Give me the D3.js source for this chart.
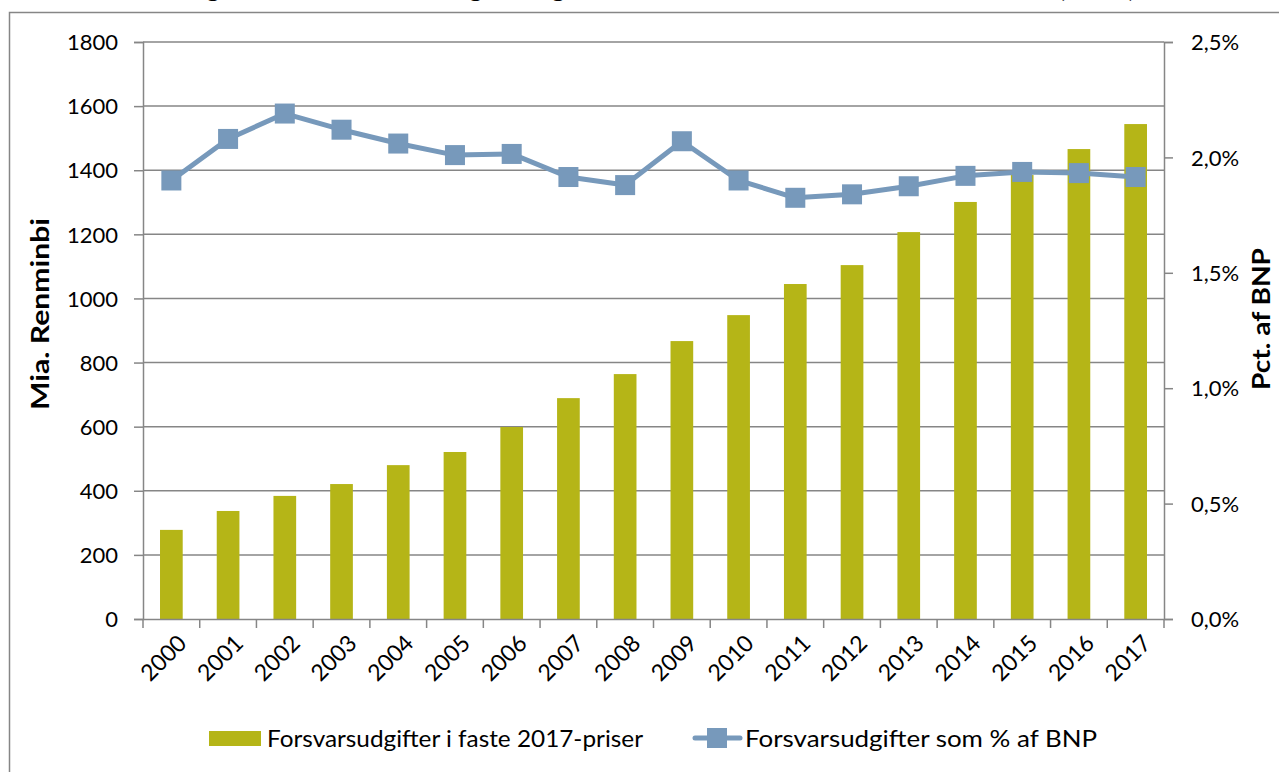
<!DOCTYPE html>
<html><head><meta charset="utf-8">
<script src="https://cdn.jsdelivr.net/npm/d3@7"></script>
<style>
html,body{margin:0;padding:0;background:#fff;}
svg{display:block;}
text{font-family:Lato,"Open Sans",sans-serif;fill:#000;}
</style></head>
<body>
<svg id="c" width="1279" height="772"></svg>
<script>
const titleText = "Figur 1: Kinas forsvarsudgifter og andel af BNP fra 2000 til 2017 i mia. RMB (SIPRI)";
const years = ["2000","2001","2002","2003","2004","2005","2006","2007","2008","2009","2010","2011","2012","2013","2014","2015","2016","2017"];
const spending = [278,337,384,421,480,521,599,689,764,867,948,1045,1104,1207,1301,1385,1466,1544];
const pctGDP = [1.90,2.08,2.19,2.12,2.06,2.01,2.015,1.915,1.88,2.07,1.90,1.825,1.84,1.875,1.92,1.937,1.932,1.915];
const leftTicks = [0,200,400,600,800,1000,1200,1400,1600,1800];
const rightTicks = [0,0.5,1.0,1.5,2.0,2.5];
const barName = "Forsvarsudgifter i faste 2017-priser";
const lineName = "Forsvarsudgifter som % af BNP";
const leftTitle = "Mia. Renminbi";
const rightTitle = "Pct. af BNP";

const svg = d3.select("#c");
const m = {l:143, r:1164, t:42, b:619};
const gridCol = "#868686", barCol = "#b5b517", lineCol = "#7799bb";

// outer frame
svg.append("rect").attr("x",9.5).attr("y",12.5).attr("width",1300).attr("height",800)
  .attr("fill","none").attr("stroke",gridCol).attr("stroke-width",1.5);

// title (clipped at the top edge, as in the reference)
svg.append("text").attr("x",660).attr("y",-3).attr("text-anchor","middle")
  .attr("font-weight","bold").attr("font-size",24)
  .attr("textLength",950).attr("lengthAdjust","spacingAndGlyphs").text(titleText);

const x = d3.scaleBand().domain(years).range([m.l,m.r]).paddingInner(0.6).paddingOuter(0.3);
const xOuter = d3.scaleBand().domain(years).range([m.l,m.r]);
const yL = d3.scaleLinear().domain([0,1800]).range([m.b,m.t]);
const yR = d3.scaleLinear().domain([0,2.5]).range([m.b,m.t]);

// gridlines
svg.append("g").selectAll("line").data(leftTicks.filter(d=>d>0)).join("line")
  .attr("x1",m.l).attr("x2",m.r).attr("y1",d=>yL(d)).attr("y2",d=>yL(d))
  .attr("stroke",gridCol).attr("stroke-width",1.5);

// left axis
const gl = svg.append("g").attr("transform",`translate(${m.l},0)`)
  .call(d3.axisLeft(yL).tickValues(leftTicks).tickSize(9).tickPadding(16).tickFormat(d3.format("d")));
gl.select(".domain").attr("stroke",gridCol).attr("stroke-width",1.5);
gl.selectAll(".tick line").attr("stroke",gridCol).attr("stroke-width",1.5);
gl.selectAll(".tick text").attr("font-size",22).attr("font-family","Lato").attr("dy","0.35em");

// right axis
const gr = svg.append("g").attr("transform",`translate(${m.r},0)`)
  .call(d3.axisRight(yR).tickValues(rightTicks).tickSize(9).tickPadding(18)
    .tickFormat(d=>d3.format(".1f")(d).replace(".",",")+"%"));
gr.select(".domain").attr("stroke",gridCol).attr("stroke-width",1.5);
gr.selectAll(".tick line").attr("stroke",gridCol).attr("stroke-width",1.5);
gr.selectAll(".tick text").attr("font-size",22).attr("font-family","Lato").attr("dy","0.35em");

// bars
svg.append("g").selectAll("rect").data(years).join("rect")
  .attr("x",d=>x(d)).attr("width",x.bandwidth())
  .attr("y",(d,i)=>yL(spending[i])).attr("height",(d,i)=>m.b-yL(spending[i]))
  .attr("fill",barCol);

// x axis
const gx = svg.append("g").attr("transform",`translate(0,${m.b})`)
  .call(d3.axisBottom(xOuter).tickSize(0).tickPadding(0));
gx.select(".domain").attr("stroke",gridCol).attr("stroke-width",1.5);
gx.selectAll(".tick text").remove();
const bounds = years.map(d=>xOuter(d)).concat([m.r]);
gx.selectAll("line.tk").data(bounds).join("line").attr("class","tk")
  .attr("x1",d=>d).attr("x2",d=>d).attr("y1",0).attr("y2",9)
  .attr("stroke",gridCol).attr("stroke-width",1.5);
gx.selectAll("text.lab").data(years).join("text").attr("class","lab")
  .attr("transform",d=>`translate(${xOuter(d)+xOuter.bandwidth()/2+11},${20}) rotate(-45)`)
  .attr("text-anchor","end").attr("font-size",23).attr("dy","0.35em").text(d=>d);

// line
const cx = d=>xOuter(d)+xOuter.bandwidth()/2;
svg.append("path").datum(years)
  .attr("d",d3.line().x(d=>cx(d)).y((d,i)=>yR(pctGDP[i])))
  .attr("fill","none").attr("stroke",lineCol).attr("stroke-width",5).attr("stroke-linejoin","round");
svg.append("g").selectAll("rect").data(years).join("rect")
  .attr("x",d=>cx(d)-10).attr("y",(d,i)=>yR(pctGDP[i])-10).attr("width",20).attr("height",20)
  .attr("fill",lineCol);

// axis titles
svg.append("text").attr("transform","translate(49,314) rotate(-90)").attr("text-anchor","middle")
  .attr("font-weight","bold").attr("font-size",24)
  .attr("textLength",192).attr("lengthAdjust","spacingAndGlyphs").text(leftTitle);
svg.append("text").attr("transform","translate(1270,319) rotate(-90)").attr("text-anchor","middle")
  .attr("font-weight","bold").attr("font-size",24)
  .attr("textLength",142).attr("lengthAdjust","spacingAndGlyphs").text(rightTitle);

// legend
const lg = svg.append("g");
lg.append("rect").attr("x",209).attr("y",731).attr("width",52).attr("height",15).attr("fill",barCol);
lg.append("text").attr("x",267).attr("y",747).attr("font-size",24)
  .attr("textLength",376).attr("lengthAdjust","spacingAndGlyphs").text(barName);
lg.append("line").attr("x1",695).attr("x2",740).attr("y1",738).attr("y2",738)
  .attr("stroke",lineCol).attr("stroke-width",5).attr("stroke-linecap","round");
lg.append("rect").attr("x",707).attr("y",728).attr("width",20).attr("height",20).attr("fill",lineCol);
lg.append("text").attr("x",745).attr("y",747).attr("font-size",24)
  .attr("textLength",352).attr("lengthAdjust","spacingAndGlyphs").text(lineName);
</script>
</body></html>
